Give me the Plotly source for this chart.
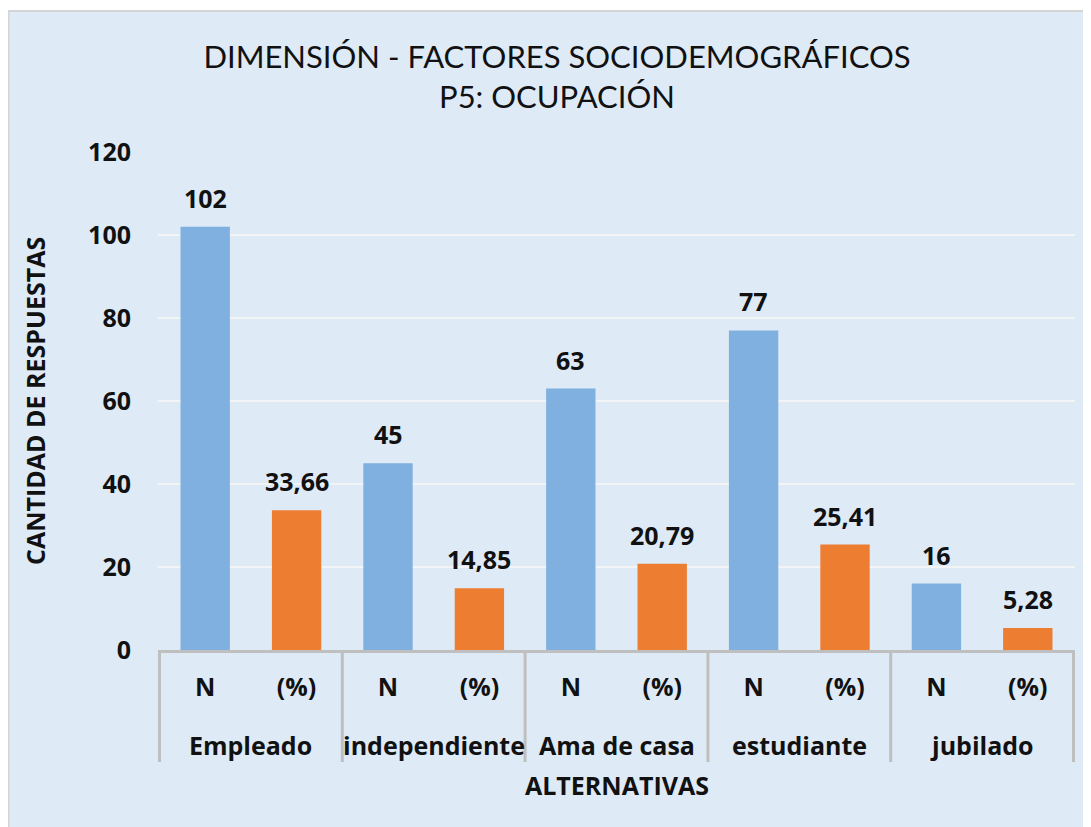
import plotly.graph_objects as go

groups = ["Empleado", "independiente", "Ama de casa", "estudiante", "jubilado"]
subcats = ["N", "(%)"]
n_values = [102, 45, 63, 77, 16]
pct_values = [33.66, 14.85, 20.79, 25.41, 5.28]
pct_labels = ["33,66", "14,85", "20,79", "25,41", "5,28"]
y_ticks = [0, 20, 40, 60, 80, 100, 120]

BLUE = "#7FB0E0"
ORANGE = "#ED7D31"
BG = "#DEEAF6"
AXIS = "#BFBFBF"
FONT = "Open Sans"
TXT = "#111111"
FS = 25

cats, ticktext, ys, txt, cols = [], [], [], [], []
for g, n, p, pl in zip(groups, n_values, pct_values, pct_labels):
    for s, v, t, c in zip(subcats, [n, p], [str(n), pl], [BLUE, ORANGE]):
        cats.append(g + " " + s)
        ticktext.append(s)
        ys.append(v)
        txt.append(t)
        cols.append(c)

fig = go.Figure(go.Bar(
    x=cats, y=ys, marker=dict(color=cols, line=dict(width=0)),
    showlegend=False,
))

OFF = 8  # page body margin
PW, PH = 1091, 827
W, H = PW - OFF, PH - OFF
# target page-pixel geometry of the plot area
P_LEFT, P_RIGHT, P_TOP, P_BOTTOM = 158, 1075, 152, 650
L, R, T, B = P_LEFT - OFF, W - (P_RIGHT - OFF), P_TOP - OFF, H - (P_BOTTOM - OFF)
pw, ph = W - L - R, H - T - B

def px_x(p):
    return (p - OFF - L) / pw

def px_y(p):
    return (H - B - (p - OFF)) / ph

# chart background with top/left border
fig.add_shape(type="rect", xref="paper", yref="paper",
              x0=px_x(OFF), x1=px_x(PW + 20), y0=px_y(11), y1=px_y(PH + 20),
              fillcolor=BG, line=dict(width=0), layer="below")
fig.add_shape(type="line", xref="paper", yref="paper",
              x0=px_x(OFF), x1=px_x(PW + 20), y0=px_y(11), y1=px_y(11),
              line=dict(color="#D4D4D4", width=2), layer="below")
fig.add_shape(type="line", xref="paper", yref="paper",
              x0=px_x(OFF + 0.5), x1=px_x(OFF + 0.5), y0=px_y(11), y1=px_y(PH + 20),
              line=dict(color="#D4D4D4", width=2), layer="below")

# value labels
for c, v, t in zip(cats, ys, txt):
    fig.add_annotation(x=c, y=v, text=t, showarrow=False, yshift=29,
                       xanchor="center", yanchor="middle",
                       font=dict(family=FONT, size=FS, color=TXT, weight="bold"))

# group labels and dividers
nsub = len(subcats)
for i, g in enumerate(groups):
    fig.add_annotation(x=i * nsub + (nsub - 1) / 2, xref="x", y=px_y(745), yref="paper",
                       text=g, showarrow=False, xanchor="center", yanchor="middle",
                       font=dict(family=FONT, size=FS, color=TXT, weight="bold"))
for i in range(len(groups) + 1):
    fig.add_shape(type="line", xref="x", yref="paper",
                  x0=i * nsub - 0.5, x1=i * nsub - 0.5, y0=0, y1=px_y(762),
                  line=dict(color=AXIS, width=3))

# axis titles
fig.add_annotation(x=0.5, xref="paper", y=px_y(785), yref="paper", text="ALTERNATIVAS",
                   showarrow=False, xanchor="center", yanchor="middle",
                   font=dict(family=FONT, size=FS, color=TXT, weight="bold"))
fig.add_annotation(x=px_x(35), xref="paper", y=0.5, yref="paper", text="CANTIDAD DE RESPUESTAS",
                   textangle=-90, showarrow=False, xanchor="center", yanchor="middle",
                   font=dict(family=FONT, size=FS, color=TXT, weight="bold"))

fig.update_layout(
    width=W, height=H,
    margin=dict(l=L, r=R, t=T, b=B, autoexpand=False),
    paper_bgcolor="white", plot_bgcolor="rgba(0,0,0,0)",
    bargap=0.46, showlegend=False,
    title=dict(text="DIMENSIÓN - FACTORES SOCIODEMOGRÁFICOS<br>P5: OCUPACIÓN",
               x=(557 - OFF) / W, xanchor="center", xref="container",
               y=1 - (68 - OFF) / H, yref="container", yanchor="middle",
               font=dict(family="Lato", size=31, color=TXT)),
    font=dict(family=FONT, color=TXT),
    xaxis=dict(type="category", categoryorder="array", categoryarray=cats,
               tickvals=cats, ticktext=ticktext, automargin=False,
               showline=True, linecolor=AXIS, linewidth=3,
               ticks="", showgrid=False, ticklabelstandoff=13,
               tickfont=dict(family=FONT, size=FS, weight="bold", color=TXT)),
    yaxis=dict(range=[0, 120], tickvals=y_ticks, showgrid=True, gridcolor="#F3F4F5", gridwidth=2,
               zeroline=False, showline=False, ticks="", ticklabelstandoff=26, automargin=False,
               tickfont=dict(family=FONT, size=FS, weight="bold", color=TXT)),
)

fig.write_html("out.html")
